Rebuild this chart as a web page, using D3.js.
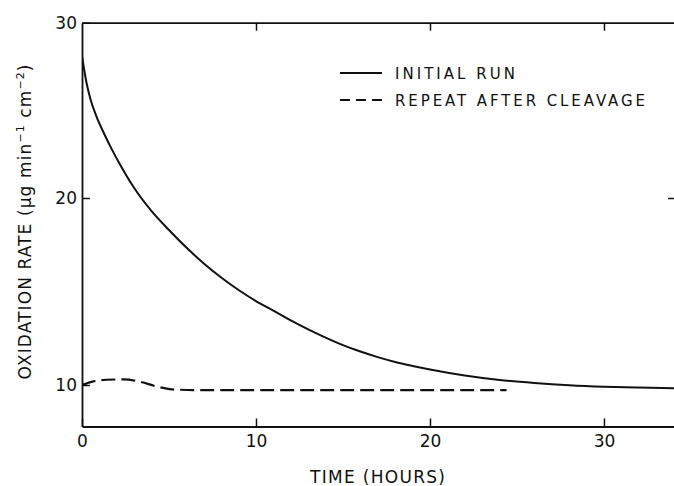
<!DOCTYPE html>
<html>
<head>
<meta charset="utf-8">
<script src="https://cdn.jsdelivr.net/npm/d3@7"></script>
<style>
  html, body { margin: 0; padding: 0; background: #fff; }
  svg { display: block; }
  text { font-family: "DejaVu Sans", sans-serif; fill: #111; }
</style>
</head>
<body>
<svg id="chart" width="674" height="486"></svg>
<script>
// ---- data ----
const timeInitial = [0, 0.25, 0.5, 0.8, 1.2, 1.7, 2.2, 3, 4, 5, 6, 7, 8, 9, 10, 11, 12, 13, 14, 15, 16, 17, 18, 19, 20, 22, 24, 26, 28, 30, 32, 34.2];
const rateInitial = [28.1, 26.62, 25.59, 24.73, 23.82, 22.8, 21.88, 20.57, 19.3, 18.29, 17.35, 16.5, 15.75, 15.08, 14.49, 13.98, 13.45, 12.97, 12.53, 12.13, 11.79, 11.49, 11.23, 11.02, 10.83, 10.51, 10.27, 10.11, 9.99, 9.91, 9.86, 9.82];
const timeRepeat = [0, 0.6, 1.4, 2.4, 3.3, 4.3, 5.3, 6.5, 9, 12, 15, 18, 21, 24.4];
const rateRepeat = [10.0, 10.18, 10.28, 10.3, 10.18, 9.92, 9.76, 9.73, 9.73, 9.73, 9.73, 9.73, 9.73, 9.73];
const xTicks = [0, 10, 20, 30];
const yTicks = [10, 20, 30];
const seriesNames = ["INITIAL RUN", "REPEAT AFTER CLEAVAGE"];
const xTitle = "TIME  (HOURS)";
const xDomain = [0, 34.14];
const yDomain = [7.78, 10, 20, 30];

// ---- layout ----
const svg = d3.select("#chart");
const pLeft = 82, pRight = 676, pTop = 22.7, pBottom = 426.5;

const x = d3.scaleLinear().domain(xDomain).range([pLeft, pRight]);
// the scanned figure is slightly non-uniform vertically: piecewise-linear scale
const y = d3.scaleLinear().domain(yDomain).range([pBottom, 385, 198, pTop]);

const axisStroke = 1.8;
function styleAxis(g) {
  g.select(".domain").attr("stroke", "#111").attr("stroke-width", axisStroke);
  g.selectAll(".tick line").attr("stroke", "#111").attr("stroke-width", 1.5);
  g.selectAll(".tick text").style("font-family", '"DejaVu Sans", sans-serif')
    .style("font-size", "17px").attr("fill", "#111");
}

// bottom axis
svg.append("g").attr("transform", `translate(0,${pBottom})`)
  .call(d3.axisBottom(x).tickValues(xTicks).tickSizeInner(-8).tickSizeOuter(0).tickPadding(8).tickFormat(d3.format("d")))
  .call(styleAxis);
// top axis
svg.append("g").attr("transform", `translate(0,${pTop})`)
  .call(d3.axisTop(x).tickValues(xTicks.filter(d => d > 0)).tickSizeInner(-8).tickSizeOuter(0).tickFormat(""))
  .call(styleAxis);
// left axis
svg.append("g").attr("transform", `translate(${pLeft},0)`)
  .call(d3.axisLeft(y).tickValues(yTicks).tickSizeInner(-8).tickSizeOuter(0).tickPadding(5).tickFormat(d3.format("d")))
  .call(styleAxis);
// right axis
svg.append("g").attr("transform", `translate(${pRight},0)`)
  .call(d3.axisRight(y).tickValues([20]).tickSizeInner(-8).tickSizeOuter(0).tickFormat(""))
  .call(styleAxis);

// ---- lines ----
const line = d3.line().x(d => x(d[0])).y(d => y(d[1])).curve(d3.curveMonotoneX);
const initial = timeInitial.map((t, i) => [t, rateInitial[i]]);
const repeat = timeRepeat.map((t, i) => [t, rateRepeat[i]]);

svg.append("clipPath").attr("id", "plotclip").append("rect")
  .attr("x", pLeft).attr("y", pTop).attr("width", pRight - pLeft).attr("height", pBottom - pTop);

svg.append("path").datum(initial).attr("d", line)
  .attr("fill", "none").attr("stroke", "#111").attr("stroke-width", 2)
  .attr("clip-path", "url(#plotclip)");
svg.append("path").datum(repeat).attr("d", line)
  .attr("fill", "none").attr("stroke", "#111").attr("stroke-width", 2.2)
  .attr("stroke-dasharray", "14,6")
  .attr("clip-path", "url(#plotclip)");

// ---- legend ----
const lg = svg.append("g");
const legendRows = [
  { name: seriesNames[0], dash: null, y: 73, len: 120 },
  { name: seriesNames[1], dash: "10,6", y: 100, len: 250 }
];
legendRows.forEach(r => {
  lg.append("line").attr("x1", 340).attr("x2", 382).attr("y1", r.y).attr("y2", r.y)
    .attr("stroke", "#111").attr("stroke-width", 1.8)
    .attr("stroke-dasharray", r.dash);
  lg.append("text").attr("x", 395).attr("y", r.y + 5.5)
    .attr("textLength", r.len).attr("lengthAdjust", "spacing")
    .style("font-size", "15px").text(r.name);
});

// ---- axis titles ----
svg.append("text").attr("x", 310).attr("y", 483)
  .attr("textLength", 135).attr("lengthAdjust", "spacing")
  .style("font-size", "17px").text(xTitle);

const yt = svg.append("text")
  .attr("transform", "translate(31,222) rotate(-90)")
  .attr("text-anchor", "middle")
  .attr("textLength", 315).attr("lengthAdjust", "spacing")
  .style("font-size", "17px");
yt.append("tspan").text("OXIDATION RATE (\u03BCg min");
yt.append("tspan").attr("dy", -7).style("font-size", "11px").text("\u22121");
yt.append("tspan").attr("dy", 7).text(" cm");
yt.append("tspan").attr("dy", -7).style("font-size", "11px").text("\u22122");
yt.append("tspan").attr("dy", 7).text(")");
</script>
</body>
</html>
